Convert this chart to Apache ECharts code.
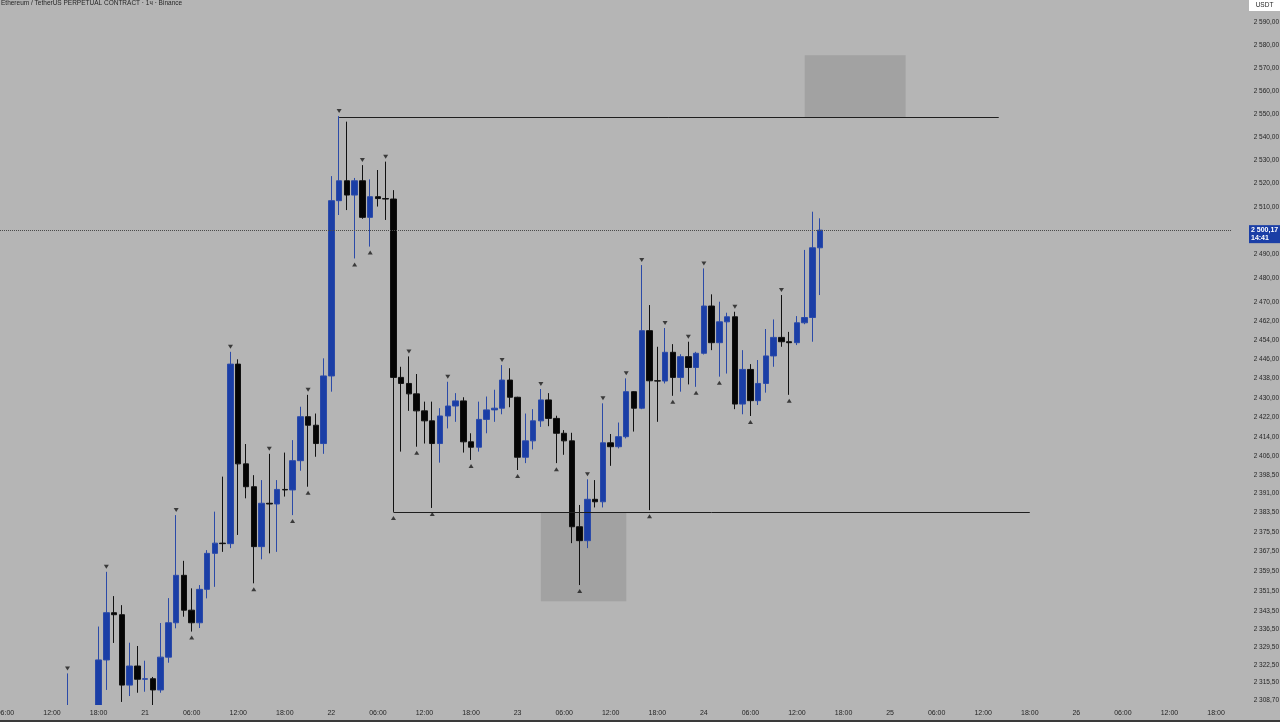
<!DOCTYPE html>
<html>
<head>
<meta charset="utf-8">
<style>
html,body{margin:0;padding:0;background:#b5b5b5;}
#c{width:1280px;height:722px;}
</style>
<script src="https://cdn.jsdelivr.net/npm/echarts@6/dist/echarts.min.js"></script>
</head>
<body>
<div id="c"></div>
<script>
// hourly candles, hour offsets counted from day 20 00:00
const firstHour = 14;
const firstDay = 20;
const opens = [
 2296, 2304, 2293, 2297, 2295, 2324.4, 2343.1, 2342.3, 2314.5, 2322.0,
 2316.8, 2317.0, 2312.6, 2325.5, 2339.1, 2358.0, 2344.1, 2339.1, 2352.4, 2366.8,
 2370.9, 2370.7, 2444.0, 2403.0, 2393.7, 2369.5, 2387.0, 2386.7, 2392.6, 2392.4,
 2404.3, 2422.3, 2418.8, 2411.3, 2439.1, 2512.7, 2521.2, 2515.1, 2521.2, 2505.6,
 2514.4, 2513.6, 2513.4, 2438.5, 2436.0, 2431.7, 2424.7, 2420.6, 2411.3, 2422.6,
 2426.7, 2428.8, 2412.0, 2409.8, 2421.2, 2425.1, 2425.8, 2437.4, 2430.3, 2405.7,
 2412.4, 2420.6, 2429.2, 2421.6, 2415.5, 2412.4, 2377.5, 2371.9, 2388.6, 2387.6,
 2411.6, 2410.0, 2414.1, 2432.6, 2425.8, 2457.9, 2437.1, 2437.0, 2448.9, 2438.5,
 2447.1, 2442.6, 2448.5, 2468.2, 2452.9, 2461.6, 2463.7, 2427.5, 2441.8, 2428.9,
 2436.0, 2447.4, 2455.1, 2453.3, 2452.9, 2461.2, 2463.4, 2492.7
];
const closes = [
 2304, 2293, 2297, 2295, 2324.4, 2343.1, 2342.3, 2314.5, 2322.0, 2316.8,
 2317.0, 2312.6, 2325.5, 2339.1, 2358.0, 2344.1, 2339.1, 2352.4, 2366.8, 2370.9,
 2370.7, 2444.0, 2403.0, 2393.7, 2369.5, 2387.0, 2386.7, 2392.6, 2392.4, 2404.3,
 2422.3, 2418.8, 2411.3, 2439.1, 2512.7, 2521.2, 2515.1, 2521.2, 2505.6, 2514.4,
 2513.6, 2513.4, 2438.5, 2436.0, 2431.7, 2424.7, 2420.6, 2411.3, 2422.6, 2426.7,
 2428.8, 2412.0, 2409.8, 2421.2, 2425.1, 2425.8, 2437.4, 2430.3, 2405.7, 2412.4,
 2420.6, 2429.2, 2421.6, 2415.5, 2412.4, 2377.5, 2371.9, 2388.6, 2387.6, 2411.6,
 2410.0, 2414.1, 2432.6, 2425.8, 2457.9, 2437.1, 2437.0, 2448.9, 2438.5, 2447.1,
 2442.6, 2448.5, 2468.2, 2452.9, 2461.6, 2463.7, 2427.5, 2441.8, 2428.9, 2436.0,
 2447.4, 2455.1, 2453.3, 2452.9, 2461.2, 2463.4, 2492.7, 2500.17
];
const highs = [
 2319.1, 2306, 2300, 2304, 2337.6, 2359.4, 2349.7, 2346.1, 2331.2, 2329.9,
 2324.1, 2317.7, 2339.0, 2348.9, 2382.2, 2363.8, 2352.8, 2354.1, 2368.1, 2383.6,
 2397.8, 2449.1, 2446.0, 2411.1, 2398.4, 2396.4, 2407.1, 2396.4, 2407.6, 2412.7,
 2426.4, 2431.3, 2423.6, 2446.4, 2523.2, 2549.0, 2546.6, 2522.4, 2527.9, 2521.8,
 2525.8, 2529.4, 2517.2, 2442.9, 2447.2, 2439.9, 2428.5, 2428.5, 2425.8, 2436.7,
 2432.0, 2430.3, 2415.5, 2428.5, 2430.6, 2433.4, 2443.6, 2442.3, 2430.5, 2423.6,
 2425.4, 2433.7, 2432.0, 2422.7, 2416.8, 2415.7, 2386.3, 2396.7, 2396.4, 2427.8,
 2415.2, 2419.9, 2438.1, 2432.8, 2485.4, 2468.6, 2451.2, 2459.0, 2452.3, 2448.1,
 2453.3, 2449.1, 2484.0, 2473.1, 2470.0, 2465.4, 2465.8, 2449.8, 2444.0, 2445.7,
 2458.6, 2462.6, 2472.8, 2457.4, 2464.0, 2491.8, 2508.0, 2505.2
];
const lows = [
 2292, 2290, 2283, 2288, 2290, 2312.6, 2331.1, 2307.9, 2310.2, 2311.5,
 2311.9, 2305.0, 2311.5, 2323.3, 2336.9, 2341.5, 2335.6, 2337.0, 2348.8, 2353.4,
 2367.4, 2368.9, 2374.2, 2389.0, 2354.8, 2364.4, 2366.8, 2367.4, 2389.7, 2382.2,
 2400.2, 2393.7, 2405.9, 2407.1, 2432.6, 2506.6, 2508.7, 2488.2, 2505.0, 2493.2,
 2510.2, 2504.5, 2383.5, 2408.0, 2424.7, 2410.0, 2411.3, 2385.1, 2403.5, 2417.5,
 2420.2, 2407.6, 2404.6, 2408.0, 2415.5, 2420.2, 2423.3, 2426.2, 2400.5, 2403.3,
 2408.9, 2418.1, 2418.4, 2403.3, 2406.7, 2370.9, 2354.1, 2368.9, 2385.3, 2385.3,
 2402.2, 2409.3, 2413.4, 2416.2, 2425.4, 2384.2, 2420.2, 2436.0, 2430.9, 2432.6,
 2435.6, 2434.6, 2448.0, 2449.8, 2438.8, 2440.1, 2425.4, 2423.3, 2422.6, 2427.1,
 2432.2, 2442.9, 2451.2, 2431.3, 2451.9, 2460.6, 2453.3, 2472.8
];
// swing markers (hour offsets)
const swingHighHours = [14,19,28,35,40,45,49,52,55,58,63,70,75,81,83,86,88,91,94,96,100,106];
const swingLowHours = [30,38,43,45,51,53,56,59,61,66,72,77,80,89,92,95,98,102,107];
// drawings
const resistance = {from: 49, to: 134, price: 2548.5};
const support = {from: 56, to: 138, price: 2383.5};
const upperZone = {from: 109, to: 122, low: 2548.5, high: 2575.5};
const lowerZone = {from: 75, to: 86, low: 2347.7, high: 2383.5};
const lastPrice = 2500.17;
const countdown = '14:41';
// axis ticks
const priceTicks = [2590,2580,2570,2560,2550,2540,2530,2520,2510,2490,2480,2470,2462,2454,2446,2438,2430,2422,2414,2406,2398.5,2391,2383.5,2375.5,2367.5,2359.5,2351.5,2343.5,2336.5,2329.5,2322.5,2315.5,2308.7];
const timeTicks = [6,12,18,24,30,36,42,48,54,60,66,72,78,84,90,96,102,108,114,120,126,132,138,144,150,156,162];

function fmtPrice(v){
  const s = (Math.round(v*100)/100).toFixed(2);
  const parts = s.split('.');
  const i = parts[0];
  const grp = i.length > 3 ? i.slice(0, i.length-3) + ' ' + i.slice(-3) : i;
  return grp + ',' + parts[1];
}
function fmtTime(v){
  const h = Math.round(v);
  if (h % 24 === 0) return String(firstDay + h/24);
  const hh = h % 24;
  return (hh < 10 ? '0' : '') + hh + ':00';
}

const candleData = opens.map((o, i) => [firstHour + i, o, closes[i], lows[i], highs[i]]);
const hiMarks = swingHighHours.map(h => [h, highs[h - firstHour]]);
const loMarks = swingLowHours.map(h => [h, lows[h - firstHour]]);

const FONT = 'Liberation Sans, Arial, sans-serif';
const chart = echarts.init(document.getElementById('c'), null, {renderer:'canvas'});
chart.setOption({
  backgroundColor: '#b5b5b5',
  animation: false,
  grid: {left: 0, right: 48, top: 0, bottom: 17, containLabel: false, outerBoundsMode: 'none'},
  xAxis: {
    type: 'value',
    z: 10,
    min: 5.299,
    max: 164.06,
    axisLine: {show: false},
    axisTick: {show: false},
    splitLine: {show: false},
    axisLabel: {
      customValues: timeTicks,
      formatter: fmtTime,
      color: '#262626',
      fontSize: 7,
      fontFamily: FONT,
      margin: 5
    }
  },
  yAxis: {
    type: 'log',
    z: 10,
    logBase: 10,
    min: 2306.7,
    max: 2599.7,
    position: 'right',
    axisLine: {show: false},
    axisTick: {show: false},
    splitLine: {show: false},
    axisLabel: {
      customValues: priceTicks,
      formatter: fmtPrice,
      color: '#262626',
      fontSize: 6.5,
      fontFamily: FONT,
      align: 'right',
      margin: 47
    }
  },
  graphic: [
    // time-scale strip (hides candle parts below the pane)
    {type:'rect', z: 6, left: 0, bottom: 2, shape:{x:0,y:0,width:1280,height:15}, style:{fill:'#b5b5b5'}},
    {type:'text', z: 11, left: 1, top: 0, style:{text:'Ethereum / TetherUS PERPETUAL CONTRACT · 1ч · Binance', fill:'#262626', font:'6.5px ' + FONT}},
    {type:'group', z: 11, right: 0, top: 0, children:[
      {type:'rect', shape:{x:0,y:0,width:31,height:11}, style:{fill:'#ffffff'}},
      {type:'text', x: 15.5, y: 5.5, style:{text:'USDT', fill:'#262626', font:'6.5px ' + FONT, align:'center', verticalAlign:'middle'}}
    ]},
    {type:'rect', z: 11, left: 0, bottom: 0, shape:{x:0,y:0,width:1280,height:2}, style:{fill:'#3a3a3a'}}
  ],
  series: [
    {
      type: 'scatter',
      z: 1,
      data: [],
      markArea: {
        silent: true,
        itemStyle: {color: 'rgba(120,120,120,0.32)'},
        data: [
          [{coord: [upperZone.from, upperZone.high]}, {coord: [upperZone.to, upperZone.low]}],
          [{coord: [lowerZone.from, lowerZone.high]}, {coord: [lowerZone.to, lowerZone.low]}]
        ]
      }
    },
    {
      type: 'candlestick',
      z: 3,
      barWidth: 6,
      data: candleData,
      encode: {x: 0, y: [1, 2, 3, 4]},
      itemStyle: {
        color: '#1a3ea6',
        color0: '#050505',
        borderColor: '#2b4aa8',
        borderColor0: '#111111',
        borderWidth: 1
      },
      markLine: {
        silent: true,
        symbol: 'none',
        animation: false,
        data: [
          [{coord: [resistance.from, resistance.price], lineStyle:{color:'#1e1e1e', width:1, type:'solid'}, label:{show:false}},
           {coord: [resistance.to, resistance.price]}],
          [{coord: [support.from, support.price], lineStyle:{color:'#1e1e1e', width:1, type:'solid'}, label:{show:false}},
           {coord: [support.to, support.price]}],
          {yAxis: lastPrice, lineStyle:{color:'#4a4a4a', width:1, type:'dotted'},
           label:{show:true, position:'end', distance: 17, formatter: fmtPrice(lastPrice) + '\n' + countdown,
                  backgroundColor:'#1a3ea6', color:'#ffffff', fontSize: 7, fontWeight:'bold', lineHeight: 8,
                  padding:[1,2,1,2], fontFamily: FONT, offset:[0,4]}}
        ]
      }
    },
    {
      type: 'scatter',
      z: 4,
      data: hiMarks,
      symbol: 'triangle',
      symbolRotate: 180,
      symbolSize: [5, 4],
      symbolOffset: [0, -5],
      itemStyle: {color: '#1c1c1c'}
    },
    {
      type: 'scatter',
      z: 4,
      data: loMarks,
      symbol: 'triangle',
      symbolSize: [5, 4],
      symbolOffset: [0, 6],
      itemStyle: {color: '#1c1c1c'}
    }
  ]
});
</script>
</body>
</html>
